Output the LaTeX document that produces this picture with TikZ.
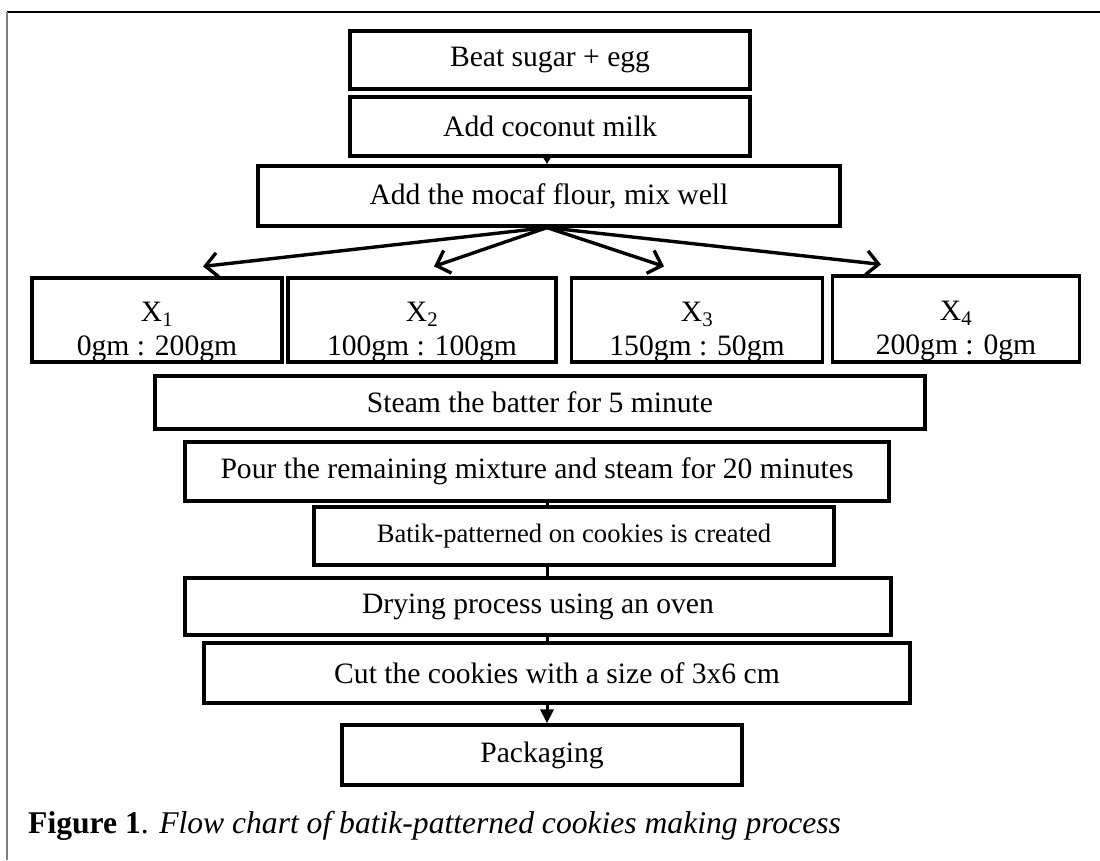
\documentclass[tikz,border=0pt]{standalone}
\usepackage{fontspec}
\setmainfont{Liberation Serif}
\usetikzlibrary{arrows.meta}

\begin{document}
\begin{tikzpicture}[x=1pt,y=-1pt,
  box/.style={draw,line width=3.2pt,inner sep=0pt,font=\fontsize{29.6}{32}\selectfont},
  fan/.style={line width=3.4pt,-{Straight Barb[length=12pt,width=24pt]}},
  stem/.style={line width=3pt}]
\useasboundingbox (0,0) rectangle (1100,860);
\draw[line width=2pt] (7,12) -- (1100,12);
\draw[gray,line width=2pt] (7,12) -- (7,860);
\coordinate (mid) at (547,0);
\foreach \x/\y/\w/\h/\n/\t in {550/60/400/58/beat/Beat sugar + egg, 550/126.5/400/59/milk/Add coconut milk, {549/196/582/60/flour/Add the mocaf flour, mix well}, 540/402.5/770/53/steam/Steam the batter for 5 minute, 537/471.5/704/59/pour/Pour the remaining mixture and steam for 20 minutes, 538/606.5/706/57/dry/Drying process using an oven, 557/673/706/60/cut/Cut the cookies with a size of 3x6 cm, 542/755/400/60/pack/Packaging}
  \node[box,minimum width=\w pt,minimum height=\h pt] (\n) at (\x,\y) {\t};
\node[box,font=\fontsize{26.6}{30}\selectfont,minimum width=520pt,minimum height=58pt] (batik) at (574,536) {Batik-patterned on cookies is created};
\foreach \x/\y/\w/\h/\n/\i/\r in {157/320/250/84/x1/1/0gm : 200gm, 422/320/268/84/x2/2/100gm : 100gm, 697/320/251/84/x3/3/150gm : 50gm, 956/319/247/86/x4/4/200gm : 0gm}
  \node[box,font=\fontsize{29.6}{34}\selectfont,align=center,text height=70pt,text depth=0pt,minimum width=\w pt,minimum height=\h pt] (\n) at (\x,\y) {X\textsubscript{\i}\\\r};

\draw[line width=2pt,-{Latex[length=7pt,width=9pt]}] (milk.south -| mid) -- (flour.north -| mid);
\foreach \t/\s in {x1/46, x2/12, x3/-33, x4/-75}
  \draw[fan] (flour.south -| mid) -- ([xshift=\s pt,yshift=10pt]\t.north);
\foreach \s/\t in {pour/batik, batik/dry, dry/cut}
  \draw[stem] (\s.south -| mid) -- (\t.north -| mid);
\draw[stem,-{Triangle[length=14pt,width=13pt]}] (cut.south -| mid) -- (pack.north -| mid);

\node[anchor=base west,inner sep=0pt,font=\fontsize{31.6}{36}\selectfont] (caption) at (28,833) {\textbf{Figure 1}. \textit{Flow chart of batik-patterned cookies making process}};
\end{tikzpicture}
\end{document}
